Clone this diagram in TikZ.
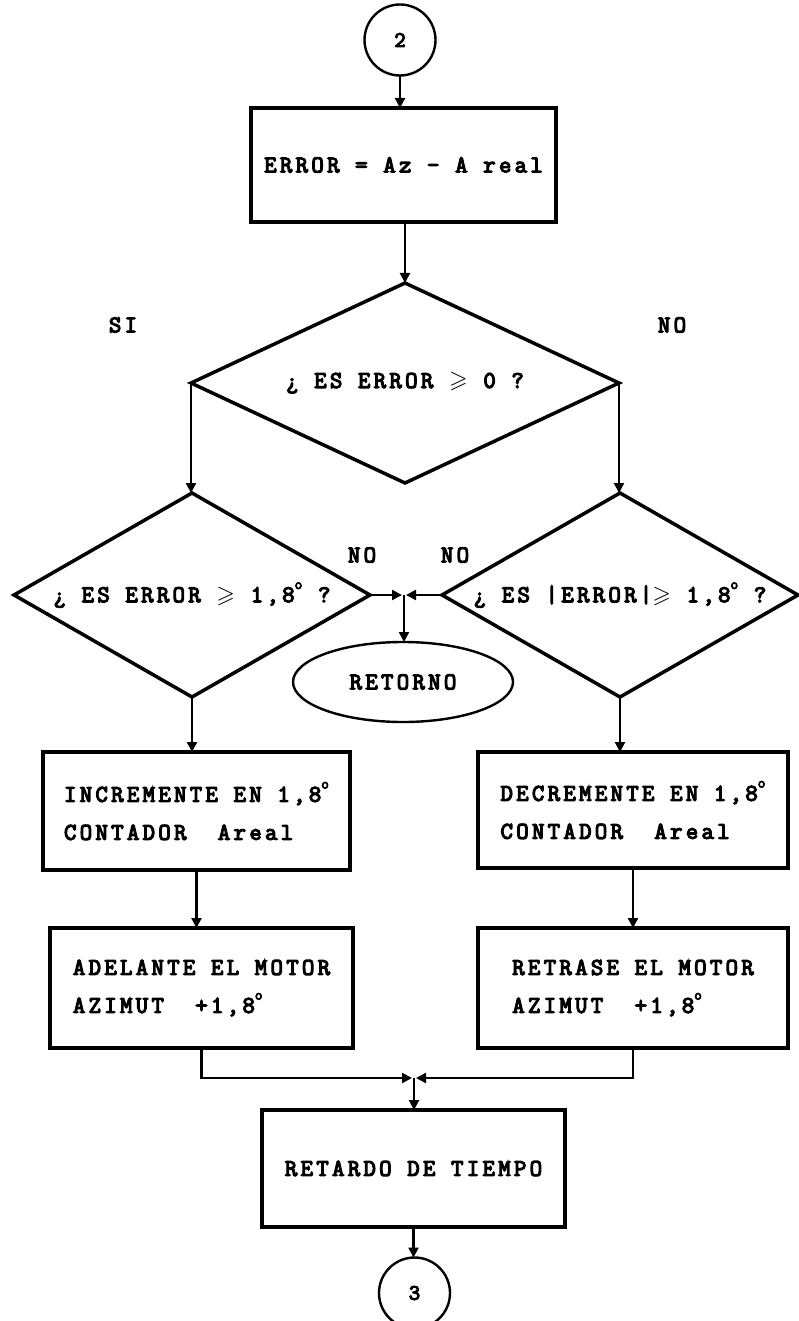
\documentclass[tikz,border=0pt]{standalone}
\usepackage{amssymb}
\usepackage{amsmath}
\usepackage{fontspec}
\setmainfont{Latin Modern Mono}[LetterSpace=14, FakeBold=5]
\usetikzlibrary{shapes.geometric,arrows.meta}
\newcommand{\dgr}{\raisebox{0.55em}{\fontsize{15}{15}\selectfont o}}
\newcommand{\gsl}{\ensuremath{\boldsymbol{\geqslant}}}
\begin{document}
\begin{tikzpicture}[x=1pt,y=-1pt,
  every node/.style={font=\fontsize{24}{38}\selectfont},
  box/.style={draw, line width=3.5pt, rectangle, inner sep=0pt, outer sep=0pt, align=left},
  dia/.style={draw, line width=3.5pt, diamond, inner sep=0pt, outer sep=0pt},
  conn/.style={line width=2.2pt, -{Triangle[length=10pt,width=10pt]}},
  conncirc/.style={draw, circle, line width=2.4pt, minimum size=71pt, inner sep=0pt, outer sep=0pt, font=\fontsize{22}{22}\selectfont},
  lab/.style={inner sep=0pt}]
\useasboundingbox (0,0) rectangle (798,1321);

\node[conncirc] (c2) at (400,40) {2};
\node[box, minimum width=305pt, minimum height=114pt] (b1) at (403.5,165) {ERROR = Az - A real};
\node[dia, aspect=2.14, minimum width=428pt, minimum height=200pt] (d1) at (405,383) {¿ ES ERROR \gsl\ 0 ?};
\node[lab] (si) at (123,325) {SI};
\node[lab] (no1) at (672,325) {NO};

\node[dia, aspect=1.75, minimum width=356pt, minimum height=204pt] (d2) at (192,595) {¿ ES ERROR \gsl\ 1,8\dgr\ ?};
\node[dia, aspect=1.75, minimum width=356pt, minimum height=204pt] (d3) at (620,595) {¿ ES |ERROR|\gsl\ 1,8\dgr\ ?};
\coordinate (j1) at (404,595);
\node[lab] (no2) at (362,555) {NO};
\node[lab] (no3) at (455,555) {NO};
\node[draw, ellipse, line width=2.4pt, minimum width=220pt, minimum height=80pt, inner sep=0pt, outer sep=0pt] (ret) at (403,682) {RETORNO};

\node[box, minimum width=307pt, minimum height=118pt] (b2) at (196.5,811) {INCREMENTE EN 1,8\dgr\\CONTADOR~~Areal};
\node[box, minimum width=303pt, minimum height=120pt] (b3) at (201.5,988) {ADELANTE EL MOTOR\\AZIMUT~~+1,8\dgr};
\node[box, minimum width=310pt, minimum height=116pt] (b4) at (633,810) {DECREMENTE EN 1,8\dgr\\CONTADOR~~Areal};
\node[box, minimum width=310pt, minimum height=120pt] (b5) at (633,988) {RETRASE EL MOTOR\\AZIMUT~~+1,8\dgr};
\coordinate (j2) at (414,1078);
\node[box, minimum width=303pt, minimum height=117pt] (b6) at (413.5,1168.5) {RETARDO DE TIEMPO};
\node[conncirc] (c3) at (414.5,1293) {3};

\draw[conn] (c2.south) -- (c2.south |- b1.north);
\draw[conn] (d1.north |- b1.south) -- (d1.north);
\draw[conn] (d1.west) -- (d1.west |- d2.north);
\draw[conn] (d1.east) -- (d1.east |- d3.north);
\draw[conn] (d2.east) -- ([xshift=-2pt]j1);
\draw[conn] (d3.west) -- ([xshift=2pt]j1);
\draw[conn] (j1) -- (j1 |- ret.north);
\draw[conn] (d2.south) -- (d2.south |- b2.north);
\draw[conn] (d3.south) -- (d3.south |- b4.north);
\draw[conn] (b2.south) -- (b2.south |- b3.north);
\draw[conn] (b4.south) -- (b4.south |- b5.north);
\draw[conn] (b3.south) |- ([xshift=-2pt]j2);
\draw[conn] (b5.south) |- ([xshift=2pt]j2);
\draw[conn] (j2) -- (j2 |- b6.north);
\draw[conn] (b6.south) -- (b6.south |- c3.north);
\end{tikzpicture}
\end{document}
